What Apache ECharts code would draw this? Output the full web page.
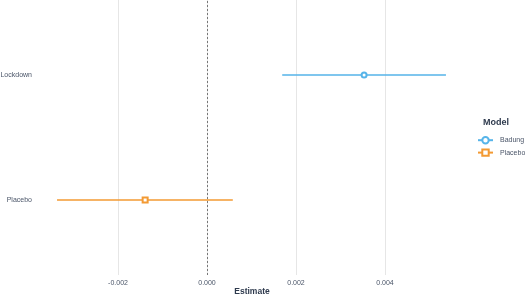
<!DOCTYPE html>
<html><head><meta charset="utf-8">
<script src="https://cdn.jsdelivr.net/npm/echarts@6/dist/echarts.min.js"></script>
<style>html,body{margin:0;padding:0;background:#fff}#c{width:525px;height:297px}</style>
</head><body><div id="c"></div>
<script>
// Data
const categories = ['Placebo', 'Lockdown'];         // bottom to top
const models = ['Badung', 'Placebo'];
const catIndex = [2, 1];                            // Badung -> Lockdown row, Placebo -> Placebo row
const estimates = [0.00353, -0.00139];
const lower = [0.00169, -0.00337];
const upper = [0.00537, 0.00058];
const xTicks = [-0.002, 0.000, 0.002, 0.004];
const xTitle = 'Estimate';
const legendTitle = 'Model';
const colors = ['#56B4E9', '#F39A33'];
const symbols = ['emptyCircle', 'emptyRect'];

const chart = echarts.init(document.getElementById('c'), null, {renderer: 'canvas'});
const series = models.map((m, i) => ({
  name: m,
  type: 'line',
  symbol: symbols[i],
  symbolSize: 5,
  color: colors[i],
  lineStyle: {width: 1.4, color: colors[i]},
  itemStyle: {color: colors[i], borderWidth: 1.3},
  emphasis: {disabled: true},
  data: [
    {value: [lower[i], catIndex[i]], symbol: 'none'},
    {value: [estimates[i], catIndex[i]]},
    {value: [upper[i], catIndex[i]], symbol: 'none'}
  ],
  z: 5
}));
series.push({
  type: 'line', data: [], silent: true,
  markLine: {
    silent: true, symbol: 'none', label: {show: false},
    lineStyle: {type: [2, 2], color: '#777', width: 1},
    data: [{xAxis: 0}]
  }
});

chart.setOption({
  animation: false,
  textStyle: {fontFamily: 'Liberation Sans, Arial, sans-serif'},
  title: [{
    text: legendTitle, left: 483, top: 118, padding: 0,
    textStyle: {fontSize: 9, fontWeight: 'bold', color: '#2e3a4d'}
  }, {
    text: xTitle, left: 252, textAlign: 'center', top: 287, padding: 0,
    textStyle: {fontSize: 8.5, fontWeight: 'bold', color: '#2e3a4d'}
  }],
  legend: {
    orient: 'vertical', left: 477, top: 136, padding: 0,
    itemWidth: 15, itemHeight: 8, itemGap: 4,
    textStyle: {fontSize: 7, color: '#4a5568', padding: [0, 0, 0, 2]},
    data: models
  },
  grid: {left: 29, right: 525 - 474, top: 0, bottom: 22, containLabel: false, outerBoundsMode: 'none'},
  xAxis: {
    type: 'value', min: -0.004, max: 0.006, interval: 0.002,
    axisLine: {show: false}, axisTick: {show: false},
    axisLabel: {
      fontSize: 7, color: '#4a5568', margin: 5,
      formatter: v => xTicks.some(t => Math.abs(t - v) < 1e-9) ? v.toFixed(3) : ''
    },
    splitLine: {show: true, showMinLine: false, showMaxLine: false, lineStyle: {color: '#e6e6e6', width: 1}}
  },
  yAxis: {
    type: 'value', min: 0.4, max: 2.6, interval: 0.2,
    axisLine: {show: false}, axisTick: {show: false},
    splitLine: {show: false},
    axisLabel: {
      fontSize: 7, color: '#4a5568', margin: -3,
      formatter: v => {
        for (let k = 0; k < categories.length; k++) if (Math.abs(v - (k + 1)) < 1e-6) return categories[k];
        return '';
      }
    }
  },
  series: series
});
</script></body></html>
